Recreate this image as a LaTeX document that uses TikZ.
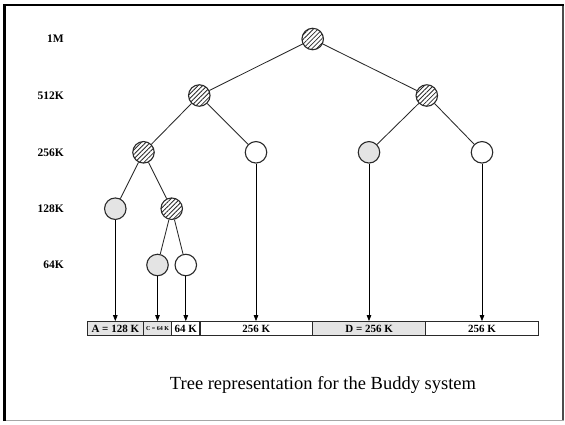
\documentclass[tikz,border=0pt]{standalone}
\usepackage{fontspec}
\setmainfont{Liberation Serif}
\usetikzlibrary{patterns.meta,arrows.meta}
\definecolor{lineg}{HTML}{2A2A2A}
\definecolor{fillg}{HTML}{E4E4E4}
\tikzset{
  vert/.style={circle,draw=lineg,line width=1.1pt,minimum size=21.5pt,inner sep=0pt},
  hatched/.style={vert,pattern={Lines[angle=45,distance=3.2pt,line width=0.8pt]},pattern color=lineg},
  used/.style={vert,fill=fillg},
  free/.style={vert,fill=white},
  edge/.style={draw=lineg,line width=0.85pt},
  arr/.style={draw=black,line width=0.8pt,-{Triangle[length=6pt,width=4.5pt]}},
  seg/.style={draw=lineg,line width=1.1pt,minimum height=14pt,inner sep=0pt,anchor=center,font=\bfseries\fontsize{11}{12}\selectfont},
  lvl/.style={anchor=east,inner sep=0pt,font=\bfseries\fontsize{11.5}{12}\selectfont},
}
\begin{document}
\begin{tikzpicture}[x=1pt,y=-1pt]
\useasboundingbox (0,0) rectangle (565,424);
% frame
\draw[black!70,line width=2pt] (562.5,4) -- (562.5,420.5);
\draw[black!35,line width=1.5pt] (4.5,420.5) -- (563.5,420.5);
\draw[black,line width=2.2pt] (4.5,421) -- (4.5,5) -- (563.5,5);
% level labels
\node[lvl] (t1) at (64,39) {1M};
\node[lvl] (t2) at (64,95.5) {512K};
\node[lvl] (t3) at (64,152.3) {256K};
\node[lvl] (t4) at (64,208.7) {128K};
\node[lvl] (t5) at (64,265) {64K};
% tree nodes
\node[hatched] (root) at (312.7,39) {};
\node[hatched] (l1a) at (199.3,95.5) {};
\node[hatched] (l1b) at (426.8,95.5) {};
\node[hatched] (l2a) at (143.5,152.3) {};
\node[free]    (l2b) at (256,152.3) {};
\node[used]    (l2c) at (369,152.3) {};
\node[free]    (l2d) at (482,152.3) {};
\node[used]    (l3a) at (115.3,208.7) {};
\node[hatched] (l3b) at (171.7,208.7) {};
\node[used]    (l4a) at (157.5,265) {};
\node[free]    (l4b) at (185.8,265) {};
% edges
\draw[edge] (root) -- (l1a);
\draw[edge] (root) -- (l1b);
\draw[edge] (l1a) -- (l2a);
\draw[edge] (l1a) -- (l2b);
\draw[edge] (l1b) -- (l2c);
\draw[edge] (l1b) -- (l2d);
\draw[edge] (l2a) -- (l3a);
\draw[edge] (l2a) -- (l3b);
\draw[edge] (l3b) -- (l4a);
\draw[edge] (l3b) -- (l4b);
% memory bar
\node[seg,fill=fillg,minimum width=56pt]  (sA) at (115.3,328.7) {A = 128 K};
\node[seg,fill=fillg,minimum width=28.4pt,font=\bfseries\fontsize{6}{7}\selectfont] (sC) at (157.5,328.7) {C = 64 K};
\node[seg,minimum width=28.3pt] (sE) at (185.85,328.7) {64 K};
\node[seg,minimum width=112.7pt] (sF) at (256.35,328.7) {256 K};
\node[seg,fill=fillg,minimum width=113pt] (sD) at (369.2,328.7) {D = 256 K};
\node[seg,minimum width=112.6pt] (sG) at (482,328.7) {256 K};
% arrows
\draw[arr] (l3a) -- (l3a |- sA.north);
\draw[arr] (l4a) -- (l4a |- sC.north);
\draw[arr] (l4b) -- (l4b |- sE.north);
\draw[arr] (l2b) -- (l2b |- sF.north);
\draw[arr] (l2c) -- (l2c |- sD.north);
\draw[arr] (l2d) -- (l2d |- sG.north);
% caption
\node[anchor=base,inner sep=0pt,font=\fontsize{18.5}{20}\selectfont] (cap) at (323,389) {Tree representation for the Buddy system};
\end{tikzpicture}
\end{document}
